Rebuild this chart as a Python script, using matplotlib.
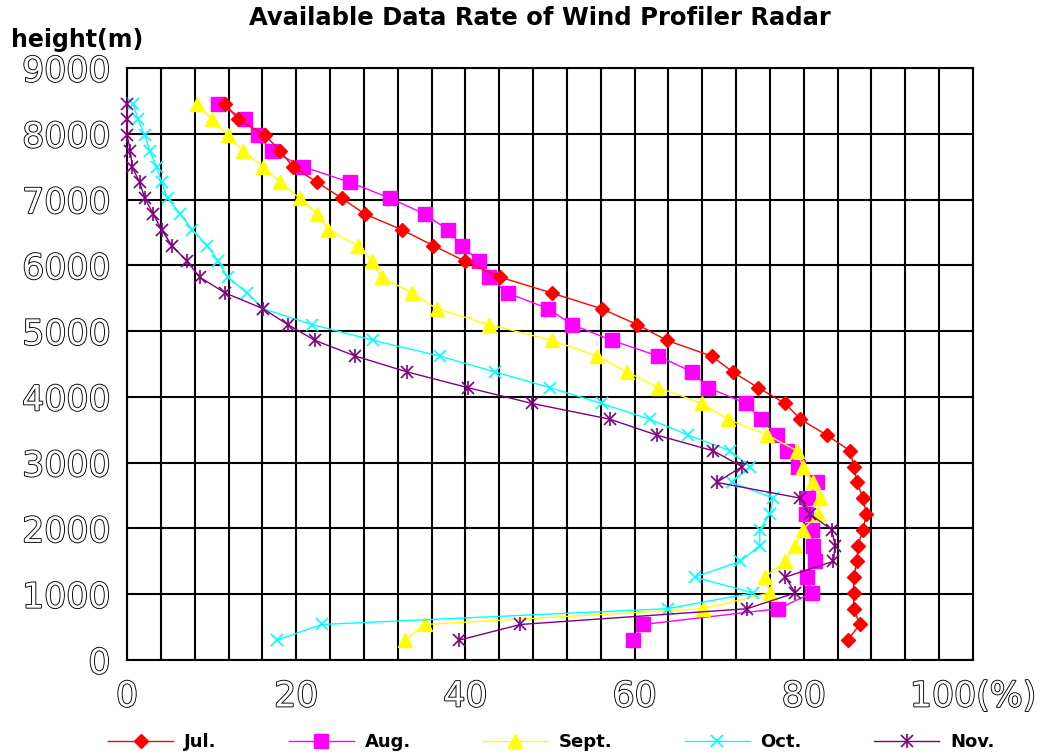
import numpy as np
import matplotlib
matplotlib.use("Agg")
import matplotlib.pyplot as plt
import matplotlib.patheffects as pe
from matplotlib.legend_handler import HandlerTuple

# heights of range gates (m), bottom to top
heights = [300, 540, 780, 1020, 1260, 1500, 1740, 1980, 2220, 2460,
           2700, 2940, 3180, 3420, 3660, 3900, 4140, 4380, 4620, 4860,
           5100, 5340, 5580, 5820, 6060, 6300, 6540, 6780, 7020, 7260,
           7500, 7740, 7980, 8220, 8460]

# available data rate (%) per month, same order as heights
jul = [85.2, 86.6, 85.9, 85.9, 85.9, 86.3, 86.4, 87.0, 87.4, 87.0,
       86.3, 85.9, 85.5, 82.7, 79.6, 77.8, 74.6, 71.6, 69.1, 63.8,
       60.3, 56.1, 50.2, 44.1, 40.0, 36.2, 32.5, 28.1, 25.4, 22.5,
       19.6, 18.1, 16.3, 13.1, 11.6]
aug = [59.8, 61.0, 77.0, 81.0, 80.4, 81.3, 81.1, 81.0, 80.3, 80.5,
       81.6, 79.3, 78.0, 76.8, 74.9, 73.2, 68.7, 66.8, 62.8, 57.3,
       52.6, 49.8, 45.0, 42.8, 41.6, 39.6, 37.9, 35.2, 31.1, 26.4,
       20.8, 17.1, 15.5, 13.9, 10.8]
sept = [32.9, 35.2, 68.1, 76.0, 75.4, 77.8, 79.0, 79.9, 81.7, 81.9,
        81.1, 79.9, 79.2, 75.7, 71.0, 68.0, 62.8, 59.1, 55.6, 50.2,
        42.8, 36.6, 33.7, 30.1, 29.0, 27.3, 23.8, 22.5, 20.4, 18.1,
        16.1, 13.7, 11.9, 10.0, 8.3]
oct_ = [17.7, 23.0, 63.9, 74.0, 67.1, 72.5, 74.8, 74.8, 76.0, 76.4,
        71.5, 73.6, 71.3, 66.3, 61.8, 56.1, 50.0, 43.5, 37.0, 29.1,
        21.9, 16.1, 14.2, 11.9, 10.8, 9.5, 7.7, 6.3, 4.8, 4.1,
        3.5, 2.7, 2.1, 1.3, 0.7]
nov = [39.2, 46.5, 73.3, 79.0, 77.8, 83.5, 83.7, 83.3, 80.7, 79.6,
       69.7, 72.7, 69.3, 62.6, 57.1, 47.9, 40.3, 33.1, 27.0, 22.2,
       19.0, 16.1, 11.6, 8.6, 7.1, 5.3, 4.1, 3.1, 2.1, 1.5,
       0.6, 0.4, 0.0, 0.0, 0.0]

labels = ["Jul.", "Aug.", "Sept.", "Oct.", "Nov."]

fig = plt.figure(figsize=(10.42, 7.56), dpi=100)
ax = fig.add_axes([127 / 1042, 1 - 660 / 756, 846 / 1042, 592 / 756])

lw = 1.0
h_jul, = ax.plot(jul, heights, color="#ff0000", lw=lw, marker="D", ms=7,
                 mec="#ff0000", clip_on=False, zorder=5)
h_aug, = ax.plot(aug, heights, color="#ff00ff", lw=lw, marker="s", ms=10,
                 mec="#ff00ff", clip_on=False, zorder=4)
h_sep, = ax.plot(sept, heights, color="#ffff00", lw=lw, marker="^", ms=10,
                 mec="#ffff00", clip_on=False, zorder=4)
h_oct, = ax.plot(oct_, heights, color="#00ffff", lw=lw, marker="x", ms=9,
                 mew=1.2, clip_on=False, zorder=4)
h_nov, = ax.plot(nov, heights, color="#800080", lw=lw, marker="x", ms=8,
                 mew=1.2, clip_on=False, zorder=4)
h_nov2, = ax.plot(nov, heights, color="#800080", ls="none", marker="|", ms=10,
                  mew=1.2, clip_on=False, zorder=4)

ax.set_xlim(0, 100)
ax.set_ylim(0, 9000)
ax.set_xticks([0, 20, 40, 60, 80, 100])
ax.set_xticklabels(["0", "20", "40", "60", "80", "100(%)"])
ax.set_xticks(np.arange(0, 101, 4), minor=True)
ax.set_yticks(np.arange(0, 9001, 1000))
ax.grid(True, which="both", axis="x", color="black", lw=1.5)
ax.grid(True, which="major", axis="y", color="black", lw=1.5)
ax.set_axisbelow(True)
for s in ax.spines.values():
    s.set_color("black")
    s.set_linewidth(1.5)
ax.tick_params(which="both", length=0)
ax.tick_params(axis="x", pad=14)
ax.tick_params(axis="y", pad=12)

# hollow-looking tick digits like the original
outline = [pe.Stroke(linewidth=1.3, foreground="black"), pe.Normal()]
for lbl in ax.get_xticklabels() + ax.get_yticklabels():
    lbl.set_fontsize(25)
    lbl.set_fontfamily("DejaVu Sans")
    lbl.set_color("white")
    lbl.set_path_effects(outline)

fig.text(0.518, 0.976, "Available Data Rate of Wind Profiler Radar",
         ha="center", va="center", fontsize=17.5, fontweight="bold")
fig.text(0.011, 0.947, "height(m)", ha="left", va="center",
         fontsize=17, fontweight="bold")

fig.legend([h_jul, h_aug, h_sep, h_oct, (h_nov, h_nov2)], labels,
           handler_map={tuple: HandlerTuple(ndivide=1)},
           loc="center", bbox_to_anchor=(0.529, 0.018), ncol=5,
           frameon=False, handlelength=3.6, handletextpad=0.6,
           columnspacing=4.0, prop={"weight": "bold", "size": 13})

fig.savefig("out.png", dpi=100)
